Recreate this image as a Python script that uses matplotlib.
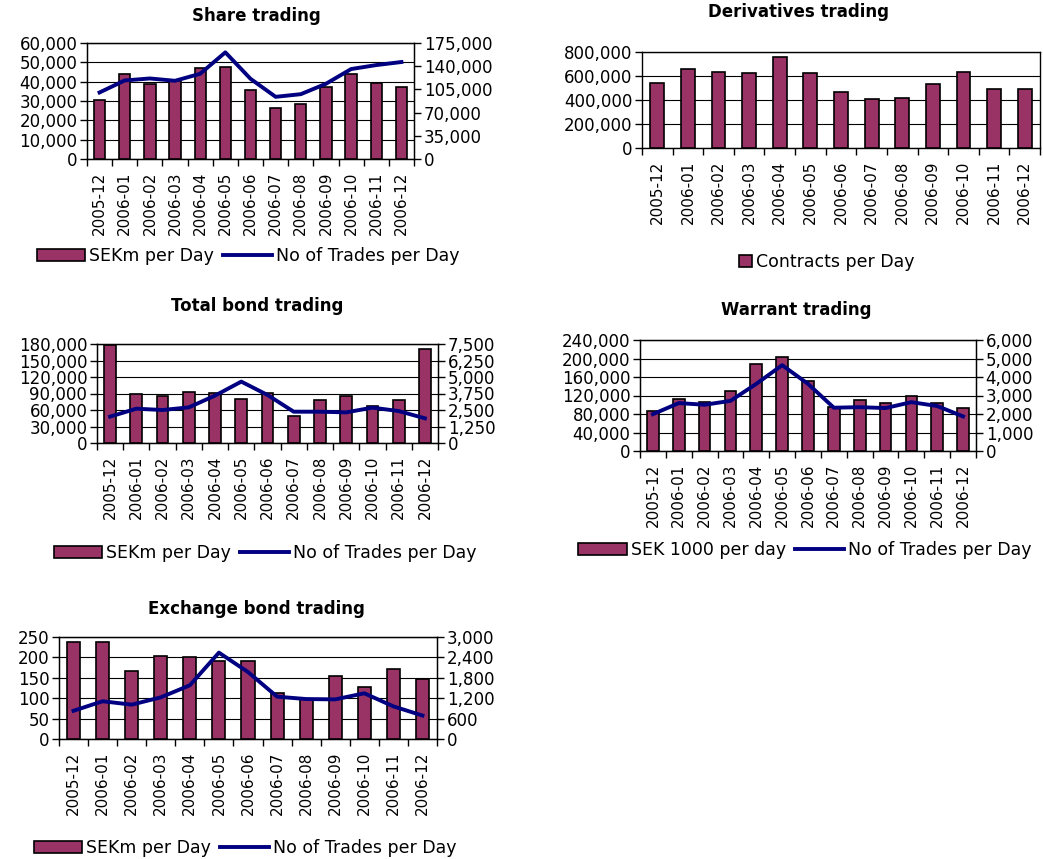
import matplotlib
matplotlib.use('Agg')
import matplotlib.pyplot as plt
from matplotlib.ticker import FuncFormatter, FixedLocator
import numpy as np

months = ['2005-12', '2006-01', '2006-02', '2006-03', '2006-04', '2006-05', '2006-06',
          '2006-07', '2006-08', '2006-09', '2006-10', '2006-11', '2006-12']

# Share trading
share_sek = [30600, 43800, 38700, 40500, 47000, 47600, 35600, 26500, 28700, 37400, 43800, 39300, 37500]
share_trades = [100400, 118500, 121500, 118000, 128600, 160900, 121000, 93800, 97800, 113500, 135700, 141700, 146300]

# Derivatives trading
deriv_contracts = [539000, 661000, 636000, 622000, 758000, 625000, 469000, 406000, 417000, 536000, 633000, 489000, 489000]

# Total bond trading
tbond_sek = [177600, 88500, 84900, 92700, 90300, 80000, 90300, 49100, 77600, 84900, 67900, 78200, 171500]
tbond_trades = [2000, 2600, 2500, 2700, 3590, 4650, 3640, 2370, 2370, 2320, 2680, 2420, 1870]

# Warrant trading
warr_sek = [87000, 113500, 104900, 129300, 189000, 203400, 151600, 94900, 109200, 102800, 119300, 104200, 92000]
warr_trades = [1990, 2590, 2500, 2710, 3630, 4640, 3630, 2340, 2370, 2320, 2640, 2430, 1870]

# Exchange bond trading
xbond_sek = [237, 237, 167, 203, 202, 192, 192, 113, 97, 155, 127, 171, 148]
xbond_trades = [830, 1110, 1010, 1225, 1580, 2540, 1970, 1245, 1175, 1165, 1345, 960, 690]

BAR = '#993366'
LINE = '#000080'
FS_X = 11      # rotated month labels
FS_Y = 12      # value axis labels
FS_T = 12      # titles
FS_L = 12.5    # legends
W, H = 1043, 859

fmt = FuncFormatter(lambda v, p: f'{int(round(v)):,}')

fig = plt.figure(figsize=(W / 100, H / 100), dpi=100)


def make_axes(l, r, t, b):
    return fig.add_axes([l / W, 1 - b / H, (r - l) / W, (b - t) / H])


def panel(box, title, title_xy, bars, ymax, ystep, bar_label, leg_xy,
          line=None, ymax2=None, ystep2=None, line_label=None):
    ax = make_axes(*box)
    x = np.arange(len(months))
    ax.bar(x, bars, width=0.45, color=BAR, edgecolor='black', linewidth=1.2, zorder=3,
           label=bar_label)
    ax.set_xlim(-0.5, len(months) - 0.5)
    ax.set_ylim(0, ymax)
    ax.set_yticks(np.arange(0, ymax + ystep / 2, ystep))
    ax.yaxis.set_major_formatter(fmt)
    ax.yaxis.grid(True, color='black', linewidth=0.8, zorder=0)
    ax.set_axisbelow(True)
    ax.set_xticks(x)
    ax.set_xticklabels(months, rotation=90)
    ax.tick_params(axis='x', which='major', length=0, pad=9, labelsize=FS_X)
    ax.xaxis.set_minor_locator(FixedLocator(np.arange(-0.5, len(months), 1)))
    ax.tick_params(axis='x', which='minor', length=5, width=1, direction='out')
    ax.tick_params(axis='y', length=5, width=1, direction='out', labelsize=FS_Y, pad=2)
    for s in ax.spines.values():
        s.set_linewidth(1)
    handles, labels = ax.get_legend_handles_labels()
    if line is not None:
        ax2 = ax.twinx()
        ax2.plot(x, line, color=LINE, linewidth=2.8, label=line_label, zorder=4)
        ax2.set_ylim(0, ymax2)
        ax2.set_yticks(np.arange(0, ymax2 + ystep2 / 2, ystep2))
        ax2.yaxis.set_major_formatter(fmt)
        ax2.tick_params(axis='y', length=5, width=1, direction='out', labelsize=FS_Y, pad=2)
        h2, l2 = ax2.get_legend_handles_labels()
        handles += h2
        labels += l2
        hl, hh = 2.8, 0.75
    else:
        hl, hh = 0.75, 0.75
    fig.text(title_xy[0] / W, 1 - title_xy[1] / H, title, ha='center', va='center',
             fontsize=FS_T, fontweight='bold')
    fig.legend(handles, labels, loc='center', bbox_to_anchor=(leg_xy[0] / W, 1 - leg_xy[1] / H),
               ncol=len(handles), frameon=False, fontsize=FS_L, handlelength=hl,
               handleheight=hh, handletextpad=0.25, columnspacing=0.5, borderaxespad=0)
    return ax


panel((87, 414, 43, 159), 'Share trading', (256, 16), share_sek, 60000, 10000,
      'SEKm per Day', (248, 256), share_trades, 175000, 35000, 'No of Trades per Day')

panel((642, 1040, 52, 148), 'Derivatives trading', (799, 12), deriv_contracts, 800000, 200000,
      'Contracts per Day', (827, 262))

panel((97, 438, 344, 443), 'Total bond trading', (257, 306), tbond_sek, 180000, 30000,
      'SEKm per Day', (265, 553), tbond_trades, 7500, 1250, 'No of Trades per Day')

panel((640, 976, 340, 451), 'Warrant trading', (796, 310), warr_sek, 240000, 40000,
      'SEK 1000 per day', (805, 550), warr_trades, 6000, 1000, 'No of Trades per Day')

panel((59, 437, 637, 739), 'Exchange bond trading', (256, 609), xbond_sek, 250, 50,
      'SEKm per Day', (245, 848), xbond_trades, 3000, 600, 'No of Trades per Day')

fig.savefig('out.png', dpi=100)
